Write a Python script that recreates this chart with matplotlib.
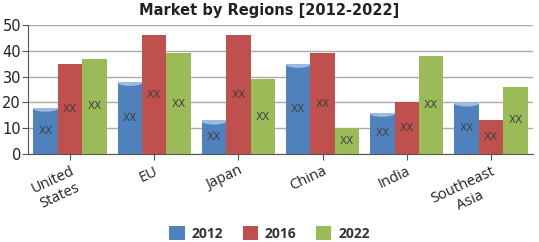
import numpy as np
import matplotlib
matplotlib.use("Agg")
import matplotlib.pyplot as plt
from matplotlib.patches import Ellipse

regions = ["United\nStates", "EU", "Japan", "China", "India", "Southeast\nAsia"]
years = ["2012", "2016", "2022"]
values_2012 = [18, 28, 13, 35, 16, 20]
values_2016 = [35, 46, 46, 39, 20, 13]
values_2022 = [37, 39, 29, 10, 38, 26]
bar_labels = "XX"

colors = ["#4f81bd", "#c0504d", "#9bbb59"]

fig = plt.figure(figsize=(5.39, 2.42), dpi=100)
ax = fig.add_axes([28 / 539, 88 / 242, 505 / 539, 129 / 242])

x = np.arange(len(regions))
w = 0.29
series = [values_2012, values_2016, values_2022]
for i, (vals, c, yr) in enumerate(zip(series, colors, years)):
    pos = x + (i - 1) * w
    bars = ax.bar(pos, vals, width=w, color=c, label=yr, zorder=3, linewidth=0)
    for b, v in zip(bars, vals):
        ax.text(b.get_x() + b.get_width() / 2, v / 2, bar_labels,
                ha="center", va="center", fontsize=7.5, color="#404040", zorder=5)
        if i == 0:
            # lighter bowl-shaped cap on top of the 2012 bars
            cap = Ellipse((b.get_x() + b.get_width() / 2, v), b.get_width() * 1.1,
                          3.2, color="#9dbbe0", zorder=4, lw=0)
            ax.add_patch(cap)
            cap.set_clip_path(b)

ax.set_xlim(-0.5, len(regions) - 0.5)
ax.set_ylim(0, 50)
ax.set_yticks(range(0, 51, 10))
ax.tick_params(axis="y", labelsize=10.5, length=4, color="#555555", pad=1,
               labelcolor="#222222")
ax.yaxis.grid(True, color="#aaaaaa", lw=1, zorder=0)
ax.set_xticks(x)
ax.set_xticklabels(regions, rotation=25, ha="right", rotation_mode="anchor",
                   multialignment="center", fontsize=10.5, family="Open Sans",
                   color="#222222")
ax.tick_params(axis="x", length=4, color="#555555", pad=3)
for s in ["top", "right"]:
    ax.spines[s].set_visible(False)
ax.spines["left"].set_color("#555555")
ax.spines["bottom"].set_color("#555555")

fig.text(0.5, 0.955, "Market by Regions [2012-2022]", ha="center", va="center",
         fontsize=10.5, fontweight="bold", color="#222222")

fig.legend(loc="center", bbox_to_anchor=(0.5, 0.035), ncol=3, frameon=False,
           handlelength=1.1, handleheight=1.1, handletextpad=0.5,
           columnspacing=1.4, labelcolor="#333333",
           prop={"weight": "bold", "size": 10, "family": "Open Sans"})

fig.savefig("out.png", dpi=100)
